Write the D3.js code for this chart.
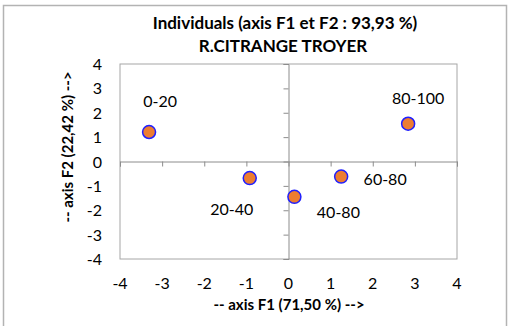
<!DOCTYPE html>
<html>
<head>
<meta charset="utf-8">
<script src="https://cdn.jsdelivr.net/npm/d3@7"></script>
<style>
  body { margin: 0; background: #fff; }
  text { font-family: Lato, "Open Sans", sans-serif; fill: #000; }
</style>
</head>
<body>
<div id="chart"></div>
<script>
// observations (F1, F2 coordinates)
var names = ["0-20", "20-40", "40-80", "60-80", "80-100"];
var f1 = [-3.31, -0.92, 0.14, 1.25, 2.84];
var f2 = [1.21, -0.68, -1.45, -0.62, 1.55];
// label offsets in px from the point (as placed in the original)
var labelDx = [11, -18, 44, 44, 10];
var labelDy = [-31, 31, 15, 2, -26];
var xTicks = [-4, -3, -2, -1, 0, 1, 2, 3, 4];
var yTicks = [-4, -3, -2, -1, 0, 1, 2, 3, 4];

var w = 511, h = 326;
var plotL = 120, plotR = 457, plotT = 64, plotB = 259;

var svg = d3.select("#chart").append("svg")
  .attr("width", w).attr("height", h);

svg.append("rect").attr("width", w).attr("height", h).attr("fill", "#fff");

// outer chart border
svg.append("rect")
  .attr("x", 3.5).attr("y", 5.5)
  .attr("width", 503).attr("height", 340)
  .attr("fill", "none").attr("stroke", "#b3b3b3").attr("stroke-width", 1.5);

var xScale = d3.scaleLinear().domain([-4, 4]).range([plotL, plotR]);
var yScale = d3.scaleLinear().domain([-4, 4]).range([plotB, plotT]);

// plot area
svg.append("rect")
  .attr("x", plotL).attr("y", plotT)
  .attr("width", plotR - plotL).attr("height", plotB - plotT)
  .attr("fill", "none").attr("stroke", "#a6a6a6").attr("stroke-width", 1);

// axes through the origin, small ticks
var xAxis = d3.axisBottom(xScale).tickValues(xTicks).tickSize(5).tickFormat("");
var yAxis = d3.axisLeft(yScale).tickValues(yTicks).tickSize(5).tickFormat("");

var gx = svg.append("g").attr("transform", "translate(0," + yScale(0) + ")").call(xAxis);
var gy = svg.append("g").attr("transform", "translate(" + xScale(0) + ",0)").call(yAxis);
[gx, gy].forEach(function(g) {
  g.select(".domain").attr("stroke", "#8c8c8c");
  g.selectAll(".tick line").attr("stroke", "#8c8c8c");
});

// tick labels sit at the plot edges like excel
svg.selectAll(".xlab").data(xTicks).enter().append("text")
  .attr("x", function(d) { return xScale(d); })
  .attr("y", 289)
  .attr("text-anchor", "middle")
  .style("font-size", "16px")
  .text(function(d) { return d; });

svg.selectAll(".ylab").data(yTicks).enter().append("text")
  .attr("x", 102)
  .attr("y", function(d) { return yScale(d) + 6; })
  .attr("text-anchor", "end")
  .style("font-size", "16px")
  .text(function(d) { return d; });

// titles
svg.append("text").attr("x", 285).attr("y", 29)
  .attr("text-anchor", "middle")
  .style("font-size", "17px").style("font-weight", "bold")
  .text("Individuals (axis F1 et F2 : 93,93 %)");
svg.append("text").attr("x", 283).attr("y", 52)
  .attr("text-anchor", "middle")
  .style("font-size", "17px").style("font-weight", "bold")
  .text("R.CITRANGE TROYER");

svg.append("text").attr("x", 289).attr("y", 310)
  .attr("text-anchor", "middle")
  .style("font-size", "15px").style("font-weight", "bold")
  .text("-- axis F1 (71,50 %) -->");

svg.append("text")
  .attr("transform", "translate(73,147) rotate(-90)")
  .attr("text-anchor", "middle")
  .style("font-size", "15px").style("font-weight", "bold")
  .text("-- axis F2 (22,42 %) -->");

// points
var pts = names.map(function(n, i) { return { name: n, x: f1[i], y: f2[i], dx: labelDx[i], dy: labelDy[i] }; });

svg.selectAll("circle.pt").data(pts).enter().append("circle")
  .attr("class", "pt")
  .attr("cx", function(d) { return xScale(d.x); })
  .attr("cy", function(d) { return yScale(d.y); })
  .attr("r", 6.5)
  .attr("fill", "#ed7d31")
  .attr("stroke", "#1f1fff")
  .attr("stroke-width", 1.5);

svg.selectAll("text.pl").data(pts).enter().append("text")
  .attr("class", "pl")
  .attr("x", function(d) { return xScale(d.x) + d.dx; })
  .attr("y", function(d) { return yScale(d.y) + d.dy + 6; })
  .attr("text-anchor", "middle")
  .style("font-size", "16px")
  .text(function(d) { return d.name; });
</script>
</body>
</html>
